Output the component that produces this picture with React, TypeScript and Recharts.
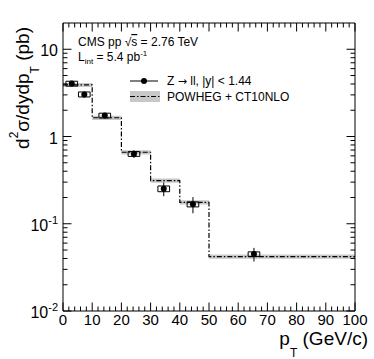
import React from 'react';
import {
  ComposedChart,
  Line,
  Area,
  Scatter,
  ErrorBar,
  XAxis,
  YAxis,
  ReferenceArea,
  Customized,
} from 'recharts';

// POWHEG + CT10NLO prediction, step histogram
const binEdges = [0, 10, 20, 30, 40, 50, 100];
const theoryValues = [3.9, 1.64, 0.66, 0.312, 0.176, 0.042];
const theoryRelUnc = [0.055, 0.055, 0.055, 0.055, 0.055, 0.055];

// CMS data points
const ptValues = [3.0, 7.3, 14.3, 24.3, 34.5, 44.5, 65.4];
const xsecValues = [4.04, 3.04, 1.74, 0.632, 0.252, 0.167, 0.0449];
const statErrors = [0.08, 0.08, 0.06, 0.065, 0.045, 0.035, 0.008];
const systErrors = [0.26, 0.2, 0.11, 0.04, 0.019, 0.011, 0.0027];

const xMajorTicks = [0, 10, 20, 30, 40, 50, 60, 70, 80, 90, 100];
const yDecades = [0.01, 0.1, 1, 10];

const FONT = '"Liberation Sans", Arial, Helvetica, sans-serif';
const BOX_HALF = 2; // half width of the systematic boxes, GeV

const xTicks: number[] = [];
for (let v = 0; v <= 100; v += 2) xTicks.push(v);
const yTicks: number[] = [];
yDecades.forEach((d) => {
  for (let m = 1; m <= 9; m++) if (d * m < 15) yTicks.push(+(d * m).toPrecision(3));
});

const theoryRows = binEdges.map((x, i) => {
  const k = Math.min(i, theoryValues.length - 1);
  const v = theoryValues[k];
  const u = theoryRelUnc[k];
  return { x, y: v, band: [v * (1 - u), v * (1 + u)] };
});

const points = ptValues.map((x, i) => ({
  x,
  y: xsecValues[i],
  stat: statErrors[i],
  syst: systErrors[i],
}));

const isDecade = (v: number) => Math.abs(Math.log10(v) - Math.round(Math.log10(v))) < 1e-6;

const XTick = (props: any) => {
  const { x, y, payload, side } = props;
  const v = payload.value;
  const major = xMajorTicks.includes(v);
  const len = major ? 8.5 : 4.5;
  const dir = side === 'top' ? 1 : -1;
  return (
    <g>
      <line x1={x} y1={y} x2={x} y2={y + dir * len} stroke="#000" strokeWidth={1} />
      {side !== 'top' && major && (
        <text x={x} y={y + 14} textAnchor="middle" fontSize={15} fontFamily={FONT} fill="#000">
          {v}
        </text>
      )}
    </g>
  );
};

const YTick = (props: any) => {
  const { x, y, payload, side } = props;
  const v = payload.value;
  const major = isDecade(v);
  const len = major ? 8.5 : 4.5;
  const dir = side === 'right' ? -1 : 1;
  const exp = Math.round(Math.log10(v));
  return (
    <g>
      <line x1={x} y1={y} x2={x + dir * len} y2={y} stroke="#000" strokeWidth={1} />
      {side !== 'right' && major && (
        <text x={58} y={y + 7} textAnchor="end" fontSize={16} fontFamily={FONT} fill="#000">
          {exp === 0 ? '1' : exp === 1 ? '10' : (
            <>
              <tspan>10</tspan>
              <tspan dy={-7} fontSize={11}>{exp}</tspan>
            </>
          )}
        </text>
      )}
    </g>
  );
};

const Annotations = () => (
  <g fontFamily={FONT} fill="#000">
    <text x={78} y={46} fontSize={12}>
      CMS pp √<tspan textDecoration="overline">s</tspan> = 2.76 TeV
    </text>
    <text x={78} y={61} fontSize={12}>
      L<tspan dy={3} fontSize={8}>int</tspan>
      <tspan dy={-3}> = 5.4 pb</tspan>
      <tspan dy={-5} fontSize={8}>-1</tspan>
    </text>

    <line x1={130} y1={81} x2={158} y2={81} stroke="#000" strokeWidth={1} />
    <circle cx={144} cy={81} r={3} fill="#000" />
    <text x={167} y={85} fontSize={12}>
      Z <tspan fontFamily='"DejaVu Sans", sans-serif' fontSize={11}>→</tspan> ll, |y| &lt; 1.44
    </text>

    <rect x={130} y={91} width={30} height={11} fill="#c8c8c8" />
    <line x1={130} y1={96.5} x2={160} y2={96.5} stroke="#000" strokeWidth={1} strokeDasharray="5 2 1.5 2" />
    <text x={167} y={101} fontSize={12}>POWHEG + CT10NLO</text>

    <text x={368} y={345} textAnchor="end" fontSize={19}>
      p<tspan dy={12} fontSize={12}>T</tspan>
      <tspan dy={-12}> (GeV/c)</tspan>
    </text>

    <text x={29} y={27} textAnchor="end" fontSize={19} transform="rotate(-90, 29, 27)">
      d<tspan dy={-11} fontSize={12}>2</tspan>
      <tspan dy={11}>σ/dydp</tspan>
      <tspan dy={10} fontSize={12}>T</tspan>
      <tspan dy={-10}> (pb)</tspan>
    </text>
  </g>
);

export default function App() {
  return (
    <div style={{ position: 'absolute', left: 0, top: 0, width: 374, height: 359, background: '#fff' }}>
      <ComposedChart
        width={374}
        height={359}
        data={theoryRows}
        margin={{ top: 22, right: 18, bottom: 0, left: 0 }}
      >
        <XAxis
          dataKey="x"
          type="number"
          domain={[0, 100]}
          allowDataOverflow
          ticks={xTicks}
          interval={0}
          tickLine={false}
          tickSize={0}
          tickMargin={0}
          height={48}
          axisLine={{ stroke: '#000' }}
          tick={<XTick side="bottom" />}
        />
        <XAxis
          xAxisId="top"
          dataKey="x"
          orientation="top"
          type="number"
          domain={[0, 100]}
          allowDataOverflow
          ticks={xTicks}
          interval={0}
          tickLine={false}
          tickSize={0}
          tickMargin={0}
          height={1}
          axisLine={{ stroke: '#000' }}
          tick={<XTick side="top" />}
        />
        <YAxis
          type="number"
          scale="log"
          domain={[0.01, 20]}
          allowDataOverflow
          ticks={yTicks}
          interval={0}
          tickLine={false}
          tickSize={0}
          tickMargin={0}
          width={63}
          axisLine={{ stroke: '#000' }}
          tick={<YTick side="left" />}
        />
        <YAxis
          yAxisId="right"
          orientation="right"
          type="number"
          scale="log"
          domain={[0.01, 20]}
          allowDataOverflow
          ticks={yTicks}
          interval={0}
          tickLine={false}
          tickSize={0}
          tickMargin={0}
          width={1}
          axisLine={{ stroke: '#000' }}
          tick={<YTick side="right" />}
        />

        <Area
          dataKey="band"
          type="stepAfter"
          fill="#c8c8c8"
          fillOpacity={1}
          stroke="none"
          isAnimationActive={false}
        />
        <Line
          dataKey="y"
          type="stepAfter"
          stroke="#000"
          strokeWidth={1.2}
          strokeDasharray="5 2 1.5 2"
          dot={false}
          isAnimationActive={false}
        />
        {/* invisible copy so the top and right frame axes get drawn */}
        <Line
          xAxisId="top"
          yAxisId="right"
          dataKey="y"
          stroke="none"
          dot={false}
          activeDot={false}
          legendType="none"
          isAnimationActive={false}
        />

        {points.map((p, i) => (
          <ReferenceArea
            key={i}
            x1={p.x - BOX_HALF}
            x2={p.x + BOX_HALF}
            y1={p.y - p.syst}
            y2={p.y + p.syst}
            fill="none"
            stroke="#000"
            strokeWidth={1}
            strokeOpacity={1}
            fillOpacity={0}
          />
        ))}

        <Scatter
          data={points}
          dataKey="y"
          fill="#000"
          isAnimationActive={false}
          shape={(props: any) => <circle cx={props.cx} cy={props.cy} r={3} fill="#000" />}
        >
          <ErrorBar dataKey="stat" direction="y" width={0} stroke="#000" strokeWidth={1} />
        </Scatter>

        <Customized component={Annotations} />
      </ComposedChart>
    </div>
  );
}
